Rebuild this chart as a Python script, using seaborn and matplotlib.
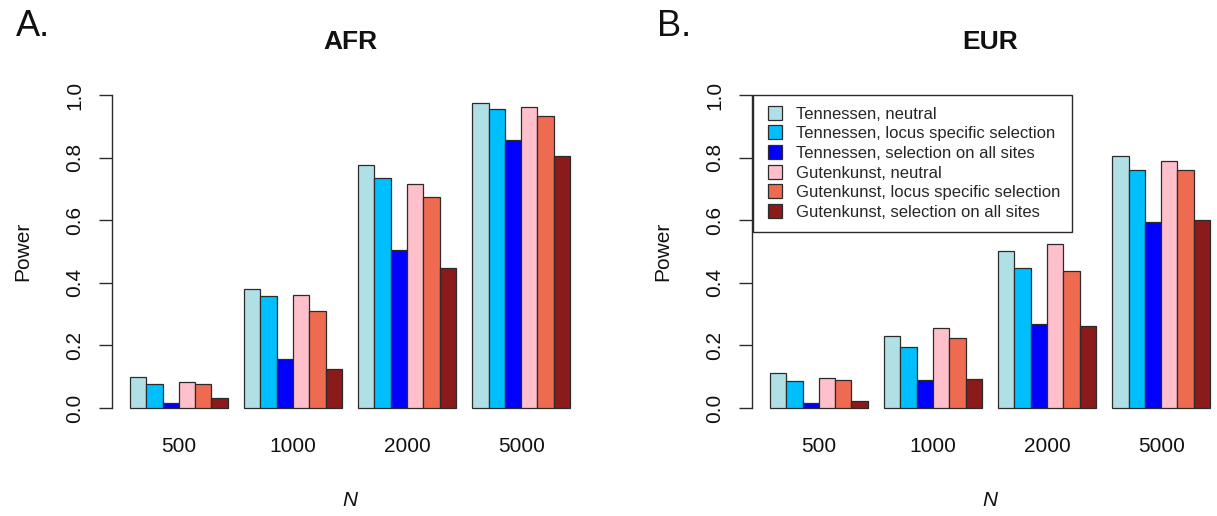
import numpy as np
import pandas as pd
import matplotlib
matplotlib.use("Agg")
import matplotlib.pyplot as plt
import seaborn as sns
from matplotlib.lines import Line2D

# ---------------- data ----------------
N_labels = ["500", "1000", "2000", "5000"]
models = [
    "Tennessen, neutral",
    "Tennessen, locus specific selection",
    "Tennessen, selection on all sites",
    "Gutenkunst, neutral",
    "Gutenkunst, locus specific selection",
    "Gutenkunst, selection on all sites",
]
colors = ["#B0E0E6", "#00BFFF", "#0000FF", "#FFC0CB", "#EE6A50", "#8B1A1A"]

afr_tenn_neutral = [0.099, 0.379, 0.776, 0.973]
afr_tenn_locus = [0.076, 0.359, 0.735, 0.954]
afr_tenn_all = [0.015, 0.155, 0.504, 0.855]
afr_gut_neutral = [0.084, 0.361, 0.715, 0.963]
afr_gut_locus = [0.076, 0.311, 0.674, 0.934]
afr_gut_all = [0.031, 0.124, 0.448, 0.805]

eur_tenn_neutral = [0.112, 0.230, 0.501, 0.805]
eur_tenn_locus = [0.086, 0.194, 0.448, 0.762]
eur_tenn_all = [0.017, 0.090, 0.269, 0.595]
eur_gut_neutral = [0.096, 0.256, 0.523, 0.790]
eur_gut_locus = [0.089, 0.224, 0.438, 0.760]
eur_gut_all = [0.021, 0.093, 0.262, 0.600]

y_ticks = [0.0, 0.2, 0.4, 0.6, 0.8, 1.0]
y_ticklabels = ["0.0", "0.2", "0.4", "0.6", "0.8", "1.0"]

afr_series = [afr_tenn_neutral, afr_tenn_locus, afr_tenn_all,
              afr_gut_neutral, afr_gut_locus, afr_gut_all]
eur_series = [eur_tenn_neutral, eur_tenn_locus, eur_tenn_all,
              eur_gut_neutral, eur_gut_locus, eur_gut_all]

# ---------------- style ----------------
sns.set_style("white")
plt.rcParams['font.family'] = ['Liberation Sans', 'DejaVu Sans']

EDGE = "#2b2b2b"
W, H = 1217, 516
fig = plt.figure(figsize=(W / 100, H / 100), dpi=100)

ax_w = 475.2 / W
ax_h = 338 / H
ax_b = (H - 420.5) / H
axA = fig.add_axes([112.4 / W, ax_b, ax_w, ax_h])
axB = fig.add_axes([752.4 / W, ax_b, ax_w, ax_h])


def make_df(series):
    rows = []
    for m, vals in zip(models, series):
        for n, v in zip(N_labels, vals):
            rows.append({"N": n, "Power": v, "Model": m})
    return pd.DataFrame(rows)


def panel(ax, series, title):
    df = make_df(series)
    sns.barplot(data=df, x="N", y="Power", hue="Model", order=N_labels,
                hue_order=models, palette=colors, width=6 / 7, saturation=1,
                edgecolor=EDGE, linewidth=0.9, errorbar=None, legend=False,
                ax=ax)
    ax.set_xlim(-0.5829, 3.5829)
    ax.set_ylim(-0.04, 1.04)
    for s in ["top", "right", "bottom"]:
        ax.spines[s].set_visible(False)
    ax.spines["left"].set_bounds(0, 1)
    ax.spines["left"].set_color(EDGE)
    ax.spines["left"].set_linewidth(1.0)
    ax.set_yticks(y_ticks)
    ax.set_yticklabels(y_ticklabels, rotation=90, va="center")
    ax.tick_params(axis="y", left=True, length=9.4, width=1.0, color=EDGE,
                   pad=10.8, labelsize=15, labelcolor="#111111")
    ax.tick_params(axis="x", length=0, pad=12, labelsize=15,
                   labelcolor="#111111")
    ax.set_xlabel("N", fontstyle="italic", fontsize=15, color="#111111")
    ax.xaxis.set_label_coords(0.5, -0.2086)
    ax.set_ylabel("Power", fontsize=15, color="#111111")
    ax.yaxis.set_label_coords(-0.169, 0.5)
    ax.set_title(title, fontsize=19, fontweight="bold", y=1.099, pad=0,
                 color="#111111")
    ax.grid(False)


panel(axA, afr_series, "AFR")
panel(axB, eur_series, "EUR")

fig.text(16 / W, 1 - 36 / H, "A.", fontsize=26, ha="left", va="baseline",
         color="#111111")
fig.text(657 / W, 1 - 36 / H, "B.", fontsize=26, ha="left", va="baseline",
         color="#111111")

handles = [Line2D([], [], marker="s", markersize=9.4, linestyle="None",
                  markerfacecolor=c, markeredgecolor=EDGE, markeredgewidth=0.9)
           for c in colors]
leg = axB.legend(handles, models, loc="upper left",
                 bbox_to_anchor=(753 / W, 1 - 95 / H),
                 bbox_transform=fig.transFigure, borderaxespad=0,
                 frameon=True, fancybox=False, framealpha=1, edgecolor=EDGE,
                 fontsize=12, handlelength=1.2, handletextpad=0.68,
                 borderpad=0.7, labelspacing=0.28)
leg.get_frame().set_linewidth(1.0)

fig.savefig("out.png", dpi=100)
